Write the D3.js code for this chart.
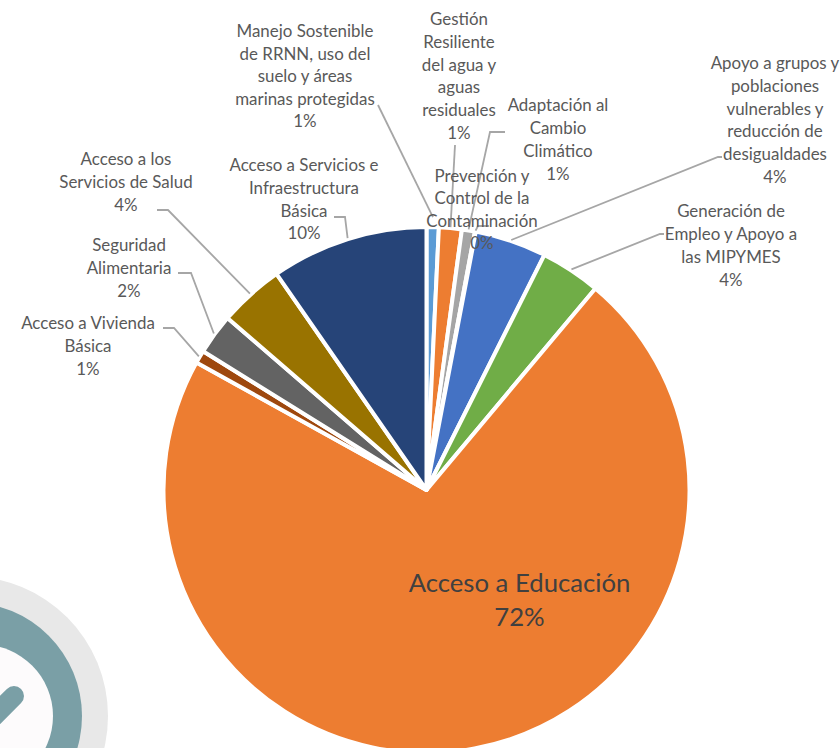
<!DOCTYPE html>
<html>
<head>
<meta charset="utf-8">
<script src="https://cdn.jsdelivr.net/npm/d3@7"></script>
<style>
  html, body { margin: 0; padding: 0; background: #fff; overflow: hidden; }
  svg { display: block; }
  text { font-family: Lato, "Open Sans", sans-serif; }
</style>
</head>
<body>
<svg id="chart" width="840" height="748"></svg>
<script>
// Shares per programme area, clockwise from twelve o'clock
const categories = [
  "Manejo Sostenible de RRNN, uso del suelo y áreas marinas protegidas",
  "Gestión Resiliente del agua y aguas residuales",
  "Adaptación al Cambio Climático",
  "Prevención y Control de la Contaminación",
  "Apoyo a grupos y poblaciones vulnerables y reducción de desigualdades",
  "Generación de Empleo y Apoyo a las MIPYMES",
  "Acceso a Educación",
  "Acceso a Vivienda Básica",
  "Seguridad Alimentaria",
  "Acceso a los Servicios de Salud",
  "Acceso a Servicios e Infraestructura Básica"
];
const shares = [0.75, 1.4, 0.8, 0.05, 4.4, 3.7, 71.95, 0.8, 2.49, 4.0, 9.66];
const percentLabels = ["1%", "1%", "1%", "0%", "4%", "4%", "72%", "1%", "2%", "4%", "10%"];
const sliceColors = ["#5B9BD5", "#ED7D31", "#A5A5A5", "#FFC000", "#4472C4", "#70AD47",
                     "#ED7D31", "#9E480E", "#636363", "#997300", "#264478"];
const labelLines = [
  ["Manejo Sostenible", "de RRNN, uso del", "suelo y áreas", "marinas protegidas"],
  ["Gestión", "Resiliente", "del agua y", "aguas", "residuales"],
  ["Adaptación al", "Cambio", "Climático"],
  ["Prevención y", "Control de la", "Contaminación"],
  ["Apoyo a grupos y", "poblaciones", "vulnerables y", "reducción de", "desigualdades"],
  ["Generación de", "Empleo y Apoyo a", "las MIPYMES"],
  ["Acceso a Educación"],
  ["Acceso a Vivienda", "Básica"],
  ["Seguridad", "Alimentaria"],
  ["Acceso a los", "Servicios de Salud"],
  ["Acceso a Servicios e", "Infraestructura", "Básica"]
];

// Label block placement: centre x, first baseline y, line step
const labelPlacement = [
  [305, 37, 22.6], [459, 25, 22.8], [558, 111, 23], [482, 182, 22.4],
  [775, 69, 22.8], [731, 217, 23], [519.5, 592, 34], [88, 329, 23],
  [129, 251, 23], [126, 165, 23], [304, 171, 22.8]
];
// Leader polylines: gap off the rim, then the bend points towards the label
const leaderGap = [10, 1, 1, 1, 1, 1, 0, 1, 1, 1, 1];
const leaderBends = [
  [[378, 105]],
  [[455, 145]],
  [[490, 132], [505, 132]],
  [[478, 226], [489, 226]],
  [[718, 157], [722, 157]],
  [[660, 234], [664, 234]],
  null,
  [[174, 328], [163, 328]],
  [[191, 273], [178, 273]],
  [[168, 210], [157, 210]],
  [[345, 217], [334, 217]]
];

const svg = d3.select("#chart");

// Badge partly cut off in the lower left corner
const badge = svg.append("g");
badge.append("circle").attr("cx", -31.6).attr("cy", 716).attr("r", 139.6).attr("fill", "#E8E8E8");
badge.append("circle").attr("cx", -31.6).attr("cy", 716).attr("r", 113.6).attr("fill", "#7A9FA6");
badge.append("circle").attr("cx", -18.4).attr("cy", 716).attr("r", 71.4).attr("fill", "#FDFBFC");
badge.append("line").attr("x1", 14).attr("y1", 696).attr("x2", -20).attr("y2", 730)
  .attr("stroke", "#7A9FA6").attr("stroke-width", 20).attr("stroke-linecap", "round");

// Pie
const cx = 426.5, cy = 490, radius = 263;
const pie = d3.pie().sort(null).value(d => d);
const arcs = pie(shares);
const arc = d3.arc().innerRadius(0).outerRadius(radius);

const plot = svg.append("g").attr("transform", `translate(${cx},${cy})`);
plot.selectAll("path.slice").data(arcs).join("path")
  .attr("class", "slice")
  .attr("d", arc)
  .attr("fill", (d, i) => sliceColors[i])
  .attr("stroke", "#fff")
  .attr("stroke-width", 4)
  .attr("stroke-linejoin", "round");

// Leader lines from each slice's rim out to its label
const leaderLine = d3.line();
arcs.forEach((d, i) => {
  if (!leaderBends[i]) return;
  const mid = (d.startAngle + d.endAngle) / 2;
  const r = radius + leaderGap[i];
  const start = [cx + r * Math.sin(mid), cy - r * Math.cos(mid)];
  svg.append("path")
    .attr("d", leaderLine([start, ...leaderBends[i]]))
    .attr("fill", "none")
    .attr("stroke", "#A6A6A6")
    .attr("stroke-width", 1.8);
});

// Labels: category lines followed by the percentage
categories.forEach((name, i) => {
  const [x, y0, step] = labelPlacement[i];
  const big = name === "Acceso a Educación";
  const block = svg.append("text")
    .attr("text-anchor", "middle")
    .attr("font-size", big ? 25.7 : 16.9)
    .attr("fill", big ? "#404040" : "#595959");
  [...labelLines[i], percentLabels[i]].forEach((line, k) => {
    block.append("tspan").attr("x", x).attr("y", y0 + k * step).text(line);
  });
});
</script>
</body>
</html>
